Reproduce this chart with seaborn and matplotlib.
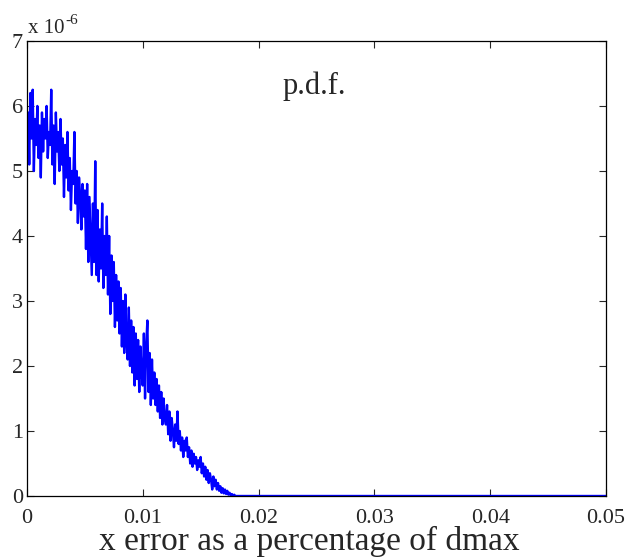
import numpy as np
import pandas as pd
import seaborn as sns
import matplotlib.pyplot as plt

# p.d.f. values in units of 1e-6, one per bin of width 0.0001
bin_width = 0.0001
x_max = 0.05
pdf_head = [
    5.3, 5.9, 5.1, 6.2, 5.5, 6.25, 5.0, 5.8, 5.4, 6.0,
    5.2, 5.7, 4.9, 5.9, 5.3, 5.8, 5.5, 6.0, 5.2, 5.6,
    5.4, 6.25, 5.1, 5.7, 4.8, 5.9, 5.3, 5.6, 5.0, 5.8,
    5.1, 5.5, 4.6, 5.4, 4.9, 5.6, 4.7, 5.2, 4.4, 5.0,
    4.8, 5.6, 4.5, 5.0, 4.2, 4.9, 4.6, 4.1, 4.8, 4.3,
    4.7, 3.8, 4.8, 3.6, 4.6, 4.0, 3.4, 4.5, 3.6, 5.15,
    3.4, 4.4, 3.3, 4.1, 3.5, 4.5, 3.2, 4.0, 3.4, 4.3,
    3.1, 4.0, 2.8, 3.7, 3.0, 3.6, 2.6, 3.4, 2.7, 3.3,
    2.5, 3.2, 2.3, 3.0, 2.2, 3.1, 2.4, 2.1, 2.9, 2.0,
    2.7, 1.9, 2.6, 1.7, 2.5, 1.8, 2.4, 1.6, 2.3, 1.9,
    1.7, 2.5, 1.5, 2.3, 2.7, 1.6, 2.2, 1.4, 2.1, 1.5,
    1.9, 1.4, 1.8, 1.3, 1.7, 1.2, 1.6, 1.1, 1.5, 1.2,
    1.1, 1.4, 0.95, 1.3, 0.85, 1.2, 1.0, 0.75, 1.1, 0.85,
    1.3, 0.8, 1.0, 0.7, 0.9, 0.6, 0.85, 0.7, 0.9, 0.6,
    0.75, 0.5, 0.7, 0.45, 0.65, 0.5, 0.6, 0.4, 0.55, 0.45,
    0.6, 0.35, 0.5, 0.3, 0.45, 0.25, 0.4, 0.2, 0.35, 0.25,
    0.1, 0.3, 0.15, 0.25, 0.1, 0.2, 0.08, 0.15, 0.05, 0.12,
    0.04, 0.1, 0.03, 0.08, 0.02, 0.05, 0.01, 0.03, 0.0, 0.02,
    0.0,
]
x_ticks = [0, 0.01, 0.02, 0.03, 0.04, 0.05]
x_tick_labels = ["0", "0.01", "0.02", "0.03", "0.04", "0.05"]
y_ticks = [0, 1, 2, 3, 4, 5, 6, 7]


def main():
    sns.set_style("ticks")
    plt.rcParams['font.family'] = ['Liberation Serif', 'DejaVu Serif']

    n_bins = int(round(x_max / bin_width)) + 1
    values = pdf_head + [0.0] * (n_bins - len(pdf_head))
    df = pd.DataFrame({'err': np.arange(n_bins) * bin_width, 'pdf': values})

    fig = plt.figure(figsize=(6.26, 5.59), dpi=100)
    ax = fig.add_axes([0.043, 0.1127, 0.925, 0.814])
    sns.lineplot(x='err', y='pdf', data=df, color='#0000ff', linewidth=1.7, ax=ax)

    ax.set_xlim(0, x_max)
    ax.set_ylim(0, 7)
    ax.set_xticks(x_ticks)
    ax.set_xticklabels(x_tick_labels)
    ax.set_yticks(y_ticks)
    ax.tick_params(direction='in', top=True, right=True, length=5, width=0.8,
                   labelsize=16, pad=3)
    ax.tick_params(axis='x', pad=9)
    for s in ax.spines.values():
        s.set_linewidth(0.9)
        s.set_color('black')

    ax.set_xlabel("x error as a percentage of dmax", fontsize=24)
    ax.xaxis.set_label_coords(0.487, -0.065)
    ax.set_ylabel("")
    # MATLAB-style exponent label above the y axis
    ax.annotate("x 10", xy=(0.0, 1.0), xycoords='axes fraction',
                xytext=(1, 2), textcoords='offset points',
                fontsize=15, ha='left', va='bottom')
    ax.annotate("-6", xy=(0.0, 1.0), xycoords='axes fraction',
                xytext=(27.5, 10), textcoords='offset points',
                fontsize=11, ha='left', va='bottom')
    ax.text(0.0221, 6.3, "p.d.f.", fontsize=22, ha='left', va='center')

    fig.savefig("out.png", dpi=100)


if __name__ == "__main__":
    main()
